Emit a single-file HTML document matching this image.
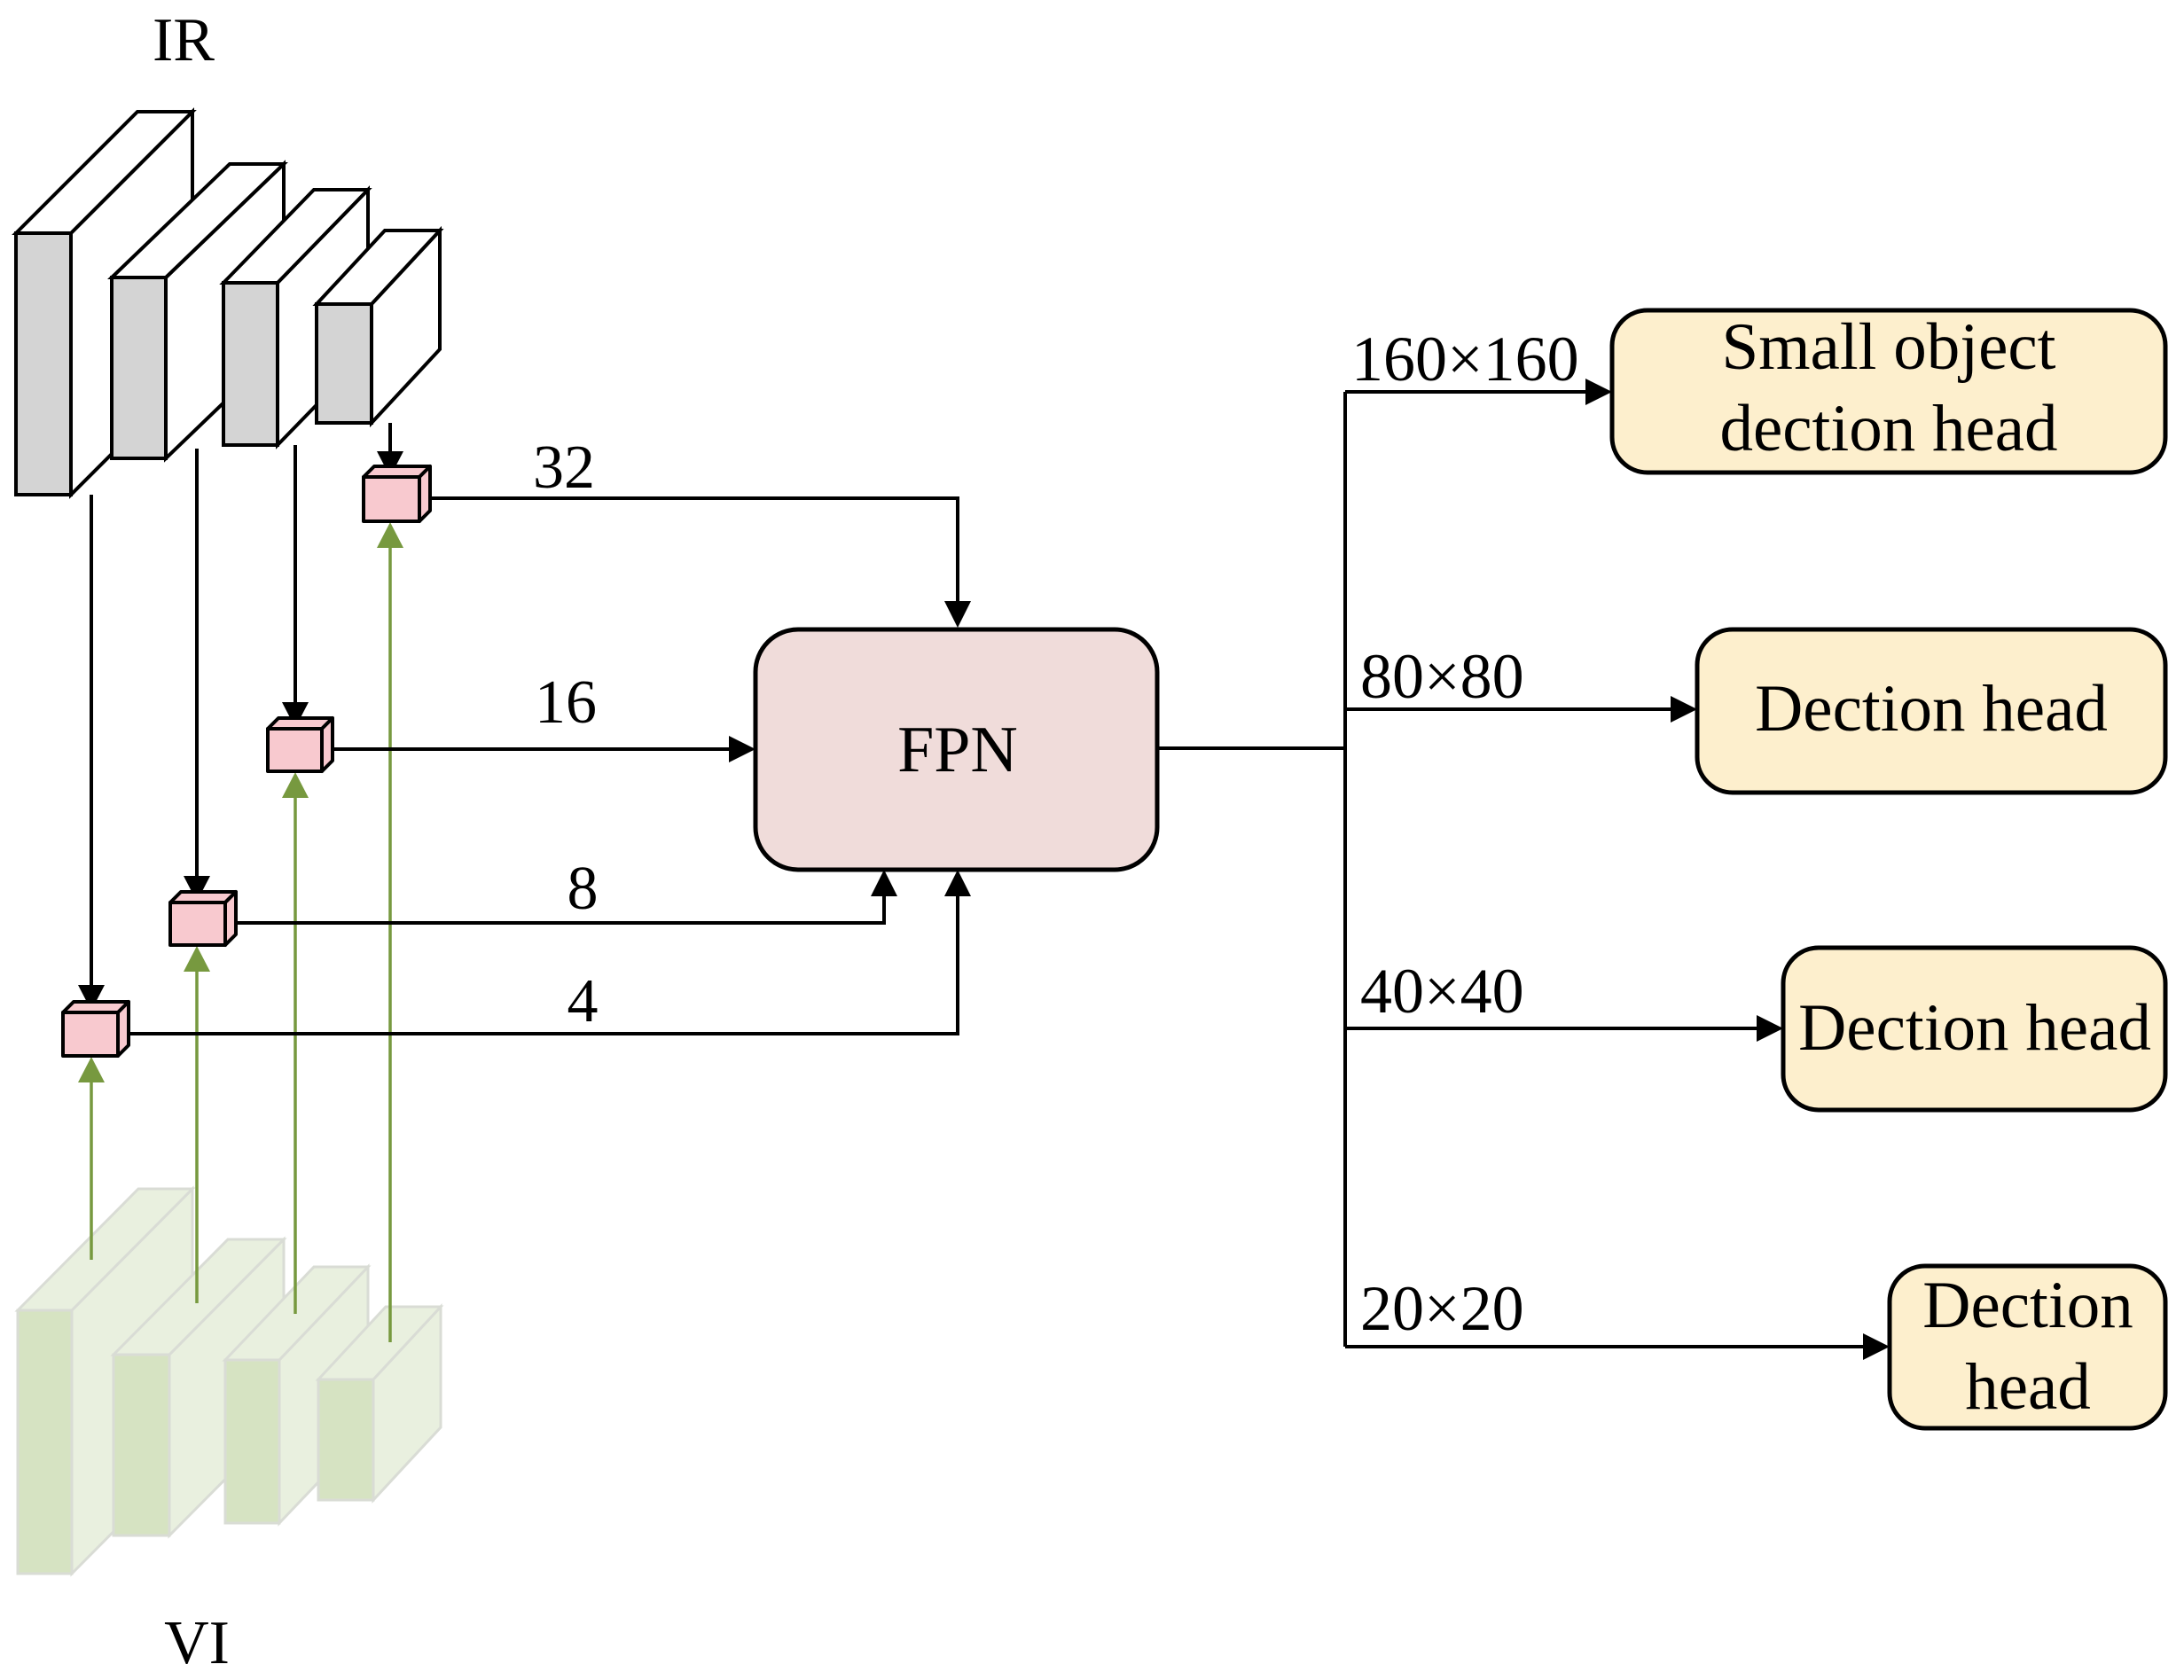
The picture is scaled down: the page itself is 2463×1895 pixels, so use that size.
<!DOCTYPE html>
<html><head><meta charset="utf-8"><style>
html,body{margin:0;padding:0;background:#fff;}
svg{display:block;}
text{font-family:"Liberation Serif",serif;fill:#000;}
</style></head><body>
<svg width="2463" height="1895" viewBox="0 0 2463 1895" xmlns="http://www.w3.org/2000/svg">
<rect width="2463" height="1895" fill="#fff"/>

<!-- IR blocks -->
<g stroke="#000" stroke-width="4" stroke-linejoin="miter">
  <polygon points="80,263 217,126 217,421 80,558" fill="#fff"/>
  <polygon points="18,263 155,126 217,126 80,263" fill="#fff"/>
  <rect x="18" y="263" width="62" height="295" fill="#d4d4d4"/>
  <polygon points="187,313 320,185 320,389 187,517" fill="#fff"/>
  <polygon points="126,313 259,185 320,185 187,313" fill="#fff"/>
  <rect x="126" y="313" width="61" height="204" fill="#d4d4d4"/>
  <polygon points="313,319 415,214 415,397 313,502" fill="#fff"/>
  <polygon points="252,319 354,214 415,214 313,319" fill="#fff"/>
  <rect x="252" y="319" width="61" height="183" fill="#d4d4d4"/>
  <polygon points="419,343 496,260 496,394 419,477" fill="#fff"/>
  <polygon points="357,343 434,260 496,260 419,343" fill="#fff"/>
  <rect x="357" y="343" width="62" height="134" fill="#d4d4d4"/>
</g>

<!-- VI blocks -->
<g stroke="#d9dcd5" stroke-width="3">
  <polygon points="81,1478 217,1341 217,1638 81,1775" fill="#e9f0df"/>
  <polygon points="20,1478 156,1341 217,1341 81,1478" fill="#e9f0df"/>
  <rect x="20" y="1478" width="61" height="297" fill="#d6e3c2"/>
  <polygon points="191,1528 320,1398 320,1602 191,1732" fill="#e9f0df"/>
  <polygon points="128,1528 257,1398 320,1398 191,1528" fill="#e9f0df"/>
  <rect x="128" y="1528" width="63" height="204" fill="#d6e3c2"/>
  <polygon points="315,1534 415,1429 415,1613 315,1718" fill="#e9f0df"/>
  <polygon points="254,1534 354,1429 415,1429 315,1534" fill="#e9f0df"/>
  <rect x="254" y="1534" width="61" height="184" fill="#d6e3c2"/>
  <polygon points="421,1556 497,1474 497,1610 421,1692" fill="#e9f0df"/>
  <polygon points="359,1556 435,1474 497,1474 421,1556" fill="#e9f0df"/>
  <rect x="359" y="1556" width="62" height="136" fill="#d6e3c2"/>
</g>

<!-- green lines -->
<g stroke="#77993f" stroke-width="3.5" fill="none">
  <line x1="103" y1="1421" x2="103" y2="1210"/>
  <line x1="222" y1="1470" x2="222" y2="1085"/>
  <line x1="333" y1="1482" x2="333" y2="890"/>
  <line x1="440" y1="1514" x2="440" y2="608"/>
</g>
<g fill="#77993f">
  <polygon points="103,1192 88,1221 118,1221"/>
  <polygon points="222,1067 207,1096 237,1096"/>
  <polygon points="333,871 318,900 348,900"/>
  <polygon points="440,589 425,618 455,618"/>
</g>

<!-- black lines -->
<g stroke="#000" stroke-width="4" fill="none">
  <line x1="103" y1="558" x2="103" y2="1120"/>
  <line x1="222" y1="506" x2="222" y2="998"/>
  <line x1="333" y1="502" x2="333" y2="802"/>
  <line x1="440" y1="477" x2="440" y2="518"/>
  <polyline points="473,562 1080,562 1080,686"/>
  <line x1="363" y1="845" x2="830" y2="845"/>
  <polyline points="254,1041 997,1041 997,1003"/>
  <polyline points="133,1166 1080,1166 1080,1003"/>
  <line x1="1305" y1="844" x2="1517" y2="844"/>
  <line x1="1517" y1="442" x2="1517" y2="1519"/>
  <line x1="1517" y1="442" x2="1796" y2="442"/>
  <line x1="1517" y1="800" x2="1892" y2="800"/>
  <line x1="1517" y1="1160" x2="1989" y2="1160"/>
  <line x1="1517" y1="1519" x2="2109" y2="1519"/>
</g>
<g fill="#000">
  <polygon points="103,1140 88,1111 118,1111"/>
  <polygon points="222,1017 207,988 237,988"/>
  <polygon points="333,821 318,792 348,792"/>
  <polygon points="440,538 425,509 455,509"/>
  <polygon points="1080,708 1065,678 1095,678"/>
  <polygon points="852,845 822,830 822,860"/>
  <polygon points="997,981 982,1011 1012,1011"/>
  <polygon points="1080,981 1065,1011 1095,1011"/>
  <polygon points="1818,442 1788,427 1788,457"/>
  <polygon points="1914,800 1884,785 1884,815"/>
  <polygon points="2011,1160 1981,1145 1981,1175"/>
  <polygon points="2131,1519 2101,1504 2101,1534"/>
</g>

<!-- pink cubes -->
<g stroke="#000" stroke-width="4" stroke-linejoin="round" fill="#f8c9cf">
  <g><polygon points="410,538 422,526 485,526 473,538"/><polygon points="473,538 485,526 485,576 473,588"/><rect x="410" y="538" width="63" height="50"/></g>
  <g><polygon points="302,822 314,810 375,810 363,822"/><polygon points="363,822 375,810 375,858 363,870"/><rect x="302" y="822" width="61" height="48"/></g>
  <g><polygon points="192,1018 204,1006 266,1006 254,1018"/><polygon points="254,1018 266,1006 266,1054 254,1066"/><rect x="192" y="1018" width="62" height="48"/></g>
  <g><polygon points="71,1142 83,1130 145,1130 133,1142"/><polygon points="133,1142 145,1130 145,1179 133,1191"/><rect x="71" y="1142" width="62" height="49"/></g>
</g>

<!-- FPN -->
<rect x="852" y="710" width="453" height="271" rx="48" ry="48" fill="#f0dcda" stroke="#000" stroke-width="5"/>
<text x="1080" y="870" font-size="74" text-anchor="middle">FPN</text>

<!-- heads -->
<g fill="#fdefcd" stroke="#000" stroke-width="5">
  <rect x="1818" y="350" width="624" height="183" rx="40" ry="40"/>
  <rect x="1914" y="710" width="528" height="184" rx="40" ry="40"/>
  <rect x="2011" y="1069" width="431" height="183" rx="40" ry="40"/>
  <rect x="2131" y="1428" width="311" height="183" rx="40" ry="40"/>
</g>
<g font-size="75" text-anchor="middle">
  <text x="2130" y="416">Small object</text>
  <text x="2130" y="508">dection head</text>
  <text x="2178" y="824">Dection head</text>
  <text x="2227" y="1184">Dection head</text>
  <text x="2287" y="1497">Dection</text>
  <text x="2287" y="1589">head</text>
</g>

<g font-size="72">
  <text x="1524" y="429">160×160</text>
  <text x="1534" y="787">80×80</text>
  <text x="1534" y="1142">40×40</text>
  <text x="1534" y="1500">20×20</text>
</g>
<g font-size="70" text-anchor="middle">
  <text x="636" y="550">32</text>
  <text x="638" y="815">16</text>
  <text x="657" y="1025">8</text>
  <text x="657" y="1152">4</text>
  <text x="207" y="68">IR</text>
  <text x="222" y="1876">VI</text>
</g>
</svg>
</body></html>
